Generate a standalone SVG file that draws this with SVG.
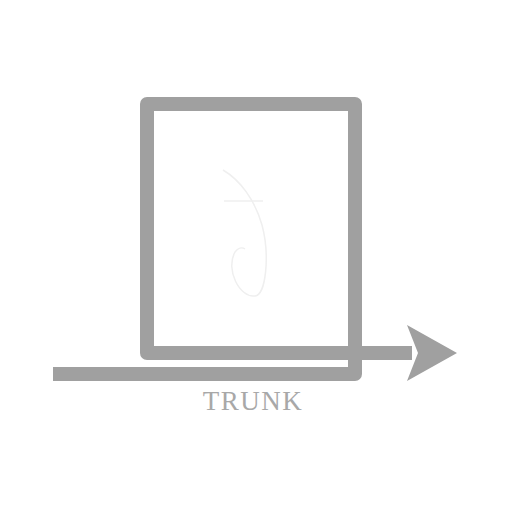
<svg xmlns="http://www.w3.org/2000/svg" width="512" height="512" viewBox="0 0 512 512">
<defs>
<style>
.wire{fill:none;stroke:#a0a0a0;stroke-width:14;stroke-linejoin:round;stroke-linecap:butt}
.lbl{font-family:"Liberation Serif",serif;font-size:27px;fill:#a8a8a8;text-anchor:middle}
</style>
</defs>
<rect width="512" height="512" fill="#ffffff"/>
<g id="connectors">
<path class="wire" d="M53,374 H355 V104 H147 V353 H412"/>
<polygon points="407,325 457,353 407,381 418,353" fill="#a0a0a0"/>
</g>
<g id="glyph">
<path d="M223,170 C240,180 255,200 262,225 C270,255 266,295 255,296 C240,298 225,270 235,252 C238,248 242,247 245,249" fill="none" stroke="#efefef" stroke-width="1.5"/>
<path d="M224,201 H263" fill="none" stroke="#efefef" stroke-width="1.5"/>
</g>
<g id="trunk-label">
<text class="lbl" x="253" y="410" letter-spacing="1.5">TRUNK</text>
</g>
</svg>
